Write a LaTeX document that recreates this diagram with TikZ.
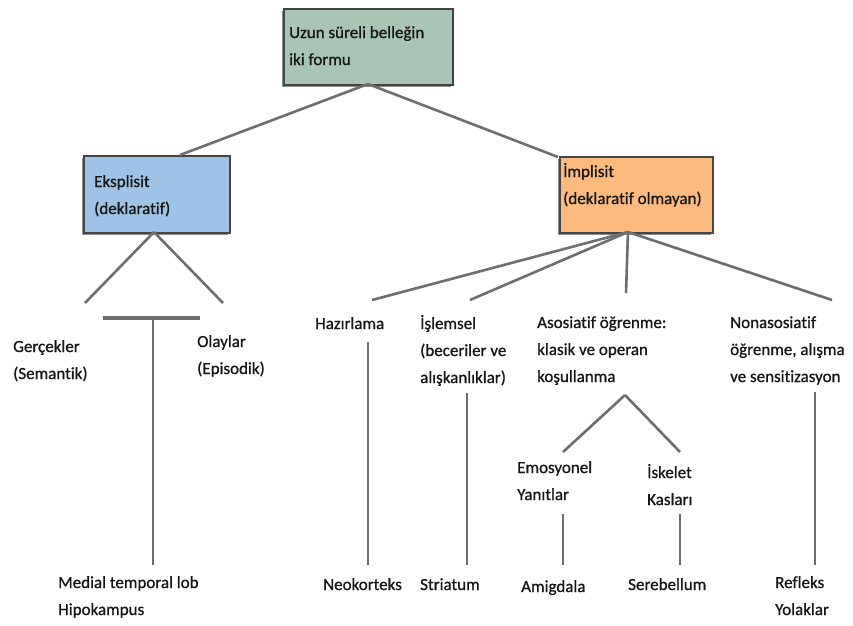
\documentclass[tikz,border=0pt]{standalone}
\usepackage{fontspec}
\setmainfont{Carlito}[Ligatures=NoCommon, RawFeature={embolden=0.8}]
\usetikzlibrary{shadows}
\newcommand{\ml}[1]{\begin{tabular}[t]{@{}l@{}}#1\end{tabular}}
\definecolor{topfill}{HTML}{A8C5B6}
\definecolor{lfill}{HTML}{9DC3E6}
\definecolor{rfill}{HTML}{FDBA7E}
\definecolor{boxline}{HTML}{454545}
\definecolor{connc}{HTML}{6E6E6E}
\definecolor{txt}{HTML}{151515}
\begin{document}
\begin{tikzpicture}[x=1pt,y=-1pt,
  box/.style={draw=boxline, line width=1.6pt, inner sep=0pt, anchor=north west,
    drop shadow={shadow xshift=-1.5pt, shadow yshift=-2pt, fill=black, opacity=.45}},
  lbl/.style={anchor=base west, inner sep=0pt, font=\fontsize{17}{27}\selectfont, text=txt},
  conn/.style={draw=connc, line width=2.6pt},
  bar/.style={draw=connc, line width=4pt},
]
\useasboundingbox[fill=white] (0,0) rectangle (853,625);

% boxes
\node[box, fill=topfill, minimum width=169pt, minimum height=76pt] (top) at (283,8) {};
\node[box, fill=lfill, minimum width=146pt, minimum height=77pt] (lbox) at (83,155) {};
\node[box, fill=rfill, minimum width=153pt, minimum height=76pt] (rbox) at (559,156) {};

% box texts
\node[lbl] (toptxt) at (289,38) {\ml{Uzun süreli belleğin\\ iki formu}};
\node[lbl] (ltxt) at (94,187) {\ml{Eksplisit\\(deklaratif)}};
\node[lbl] (rtxt) at (563,177) {\ml{İmplisit\\(deklaratif olmayan)}};

% labels
\node[lbl] (ger) at (13,352) {\ml{Gerçekler\\(Semantik)}};
\node[lbl] (ola) at (197,347) {\ml{Olaylar\\(Episodik)}};
\node[lbl] (haz) at (315,329) {Hazırlama};
\node[lbl] (isl) at (420,329) {\ml{İşlemsel\\(beceriler ve\\alışkanlıklar)}};
\node[lbl] (aso) at (537,328) {\ml{Asosiatif öğrenme:\\klasik ve operan\\koşullanma}};
\node[lbl] (non) at (730,328) {\ml{Nonasosiatif\\öğrenme, alışma\\ve sensitizasyon}};
\node[lbl] (emo) at (517,473) {\ml{Emosyonel\\Yanıtlar}};
\node[lbl] (isk) at (647,478) {\ml{İskelet\\Kasları}};
\node[lbl] (med) at (58,588) {\ml{Medial temporal lob\\Hipokampus}};
\node[lbl] (neo) at (323,590) {Neokorteks};
\node[lbl] (str) at (420,590) {Striatum};
\node[lbl] (ami) at (521,592) {Amigdala};
\node[lbl] (ser) at (628,590) {Serebellum};
\node[lbl] (ref) at (775,588) {\ml{Refleks\\Yolaklar}};

% coordinates
\coordinate (topb) at (368,84);
\coordinate (lboxt) at (180,155);
\coordinate (rboxt) at (558,157);
\coordinate (lap) at (154,232);
\coordinate (lgl) at (85,303);
\coordinate (lgr) at (223,303);
\coordinate (barl) at (103,318);
\coordinate (barr) at (200,318);
\coordinate (barm) at (153,318);
\coordinate (medt) at (153,565);
\coordinate (rap) at (628,232);
\coordinate (hazt) at (372,300);
\coordinate (islt) at (470,300);
\coordinate (asot) at (626,293);
\coordinate (nont) at (832,300);
\coordinate (hazb) at (368,342);
\coordinate (neot) at (368,565);
\coordinate (islb) at (467,393);
\coordinate (strt) at (467,565);
\coordinate (nonb) at (815,392);
\coordinate (reft) at (815,565);
\coordinate (asob) at (625,395);
\coordinate (emot) at (563,452);
\coordinate (iskt) at (680,452);
\coordinate (emob) at (563,514);
\coordinate (amit) at (563,565);
\coordinate (iskb) at (680,514);
\coordinate (sert) at (680,565);

% connectors
\draw[conn] (topb) -- (lboxt);
\draw[conn] (topb) -- (rboxt);
\draw[conn] (lap) -- (lgl);
\draw[conn] (lap) -- (lgr);
\draw[bar] (barl) -- (barr);
\draw[conn] (barm) -- (medt);
\draw[conn] (rap) -- (hazt);
\draw[conn] (rap) -- (islt);
\draw[conn] (rap) -- (asot);
\draw[conn] (rap) -- (nont);
\draw[conn] (hazb) -- (neot);
\draw[conn] (islb) -- (strt);
\draw[conn] (nonb) -- (reft);
\draw[conn] (asob) -- (emot);
\draw[conn] (asob) -- (iskt);
\draw[conn] (emob) -- (amit);
\draw[conn] (iskb) -- (sert);
\end{tikzpicture}
\end{document}
